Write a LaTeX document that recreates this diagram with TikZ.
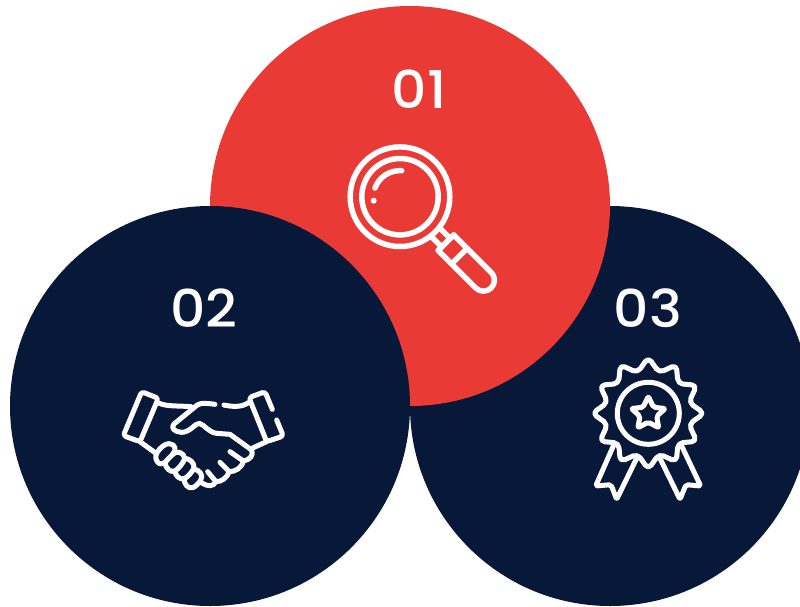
\documentclass[tikz,border=0pt]{standalone}
\usepackage{fontspec}
\setmainfont{Poppins Medium}[FakeStretch=1.06]
\definecolor{redc}{HTML}{E93A36}
\definecolor{navyc}{HTML}{071839}
\tikzset{
  disc/.style={circle,minimum size=400pt,inner sep=0pt,draw=none},
  num/.style={text=white,font=\fontsize{52}{52}\selectfont,inner sep=0pt},
  ico/.style={draw=white,line width=5.5pt,line cap=round,line join=round},
  icob/.style={draw=white,line width=5pt,line cap=round,line join=round},
}
\begin{document}
\begin{tikzpicture}[x=1pt,y=-1pt]
\useasboundingbox (0,0) rectangle (800,606);
\begin{scope}
\clip (0,0) rectangle (800,606);
\node[disc,fill=navyc] (c3) at (610,406) {};
\node[disc,fill=redc] (c1) at (410,206) {};
\node[disc,fill=navyc] (c2) at (210,406) {};
\end{scope}
\node[num] (n1) at (419,89) {01};
\node[num] (n2) at (204,308) {02};
\node[num] (n3) at (648,308) {03};
% magnifier
\begin{scope}[shift={(400,196.7)}]
\draw[ico] (0,0) circle (49.8);
\draw[ico] (0,0) circle (38.2);
\draw[ico] (1.7,-26) arc (-86:-160:26.5);
\fill[white] (-26.3,4) circle (3);
\begin{scope}[rotate=-45]
\draw[ico] (50,-6) -- (65,-6) (50,6) -- (65,6);
\draw[ico] (65,-11) -- (65,11) (84,-11) -- (84,11);
\draw[ico] (65,-11) -- (118,-11) arc (-90:90:11) -- (65,11);
\end{scope}
\end{scope}
% handshake
\begin{scope}[shift={(110,375)},x=0.3333pt,y=-0.3333pt,rounded corners=3pt]
\draw[icob] (95,50) -- (145,70) -- (90,200) -- (40,182) -- cycle;
\draw[icob] (487,103) -- (465,50) -- (417,68) -- (470,200) -- (520,183) -- (500,135);
\draw[icob,rounded corners=0pt] (148,85) .. controls (170,95) and (210,92) .. (243,95);
\draw[icob,rounded corners=0pt] (315,88) .. controls (290,85) and (275,82) .. (262,90) -- (192,147) .. controls (180,158) and (195,172) .. (215,172) .. controls (240,172) and (255,145) .. (268,145) .. controls (285,150) and (295,172) .. (320,175) -- (360,178) -- (425,225) .. controls (432,240) and (420,255) .. (400,258) .. controls (395,280) and (375,290) .. (358,290) .. controls (350,310) and (335,320) .. (318,320) .. controls (310,335) and (295,335) .. (277,325);
\draw[icob,rounded corners=0pt] (342,90) .. controls (365,95) and (395,98) .. (415,83);
\draw[icob] (470,200) -- (430,218);
\draw[icob] (90,200) -- (138,235);
\draw[icob] (360,230) -- (400,258);
\draw[icob] (330,262) -- (358,290);
\draw[icob] (293,290) -- (318,320);
% fingers
\draw[icob,rounded corners=0pt] (138,252) .. controls (132,235) and (160,205) .. (178,206) .. controls (197,208) and (200,225) .. (188,238) -- (165,262) .. controls (152,272) and (142,265) .. (138,252);
\draw[icob,rounded corners=0pt] (188,238) .. controls (200,225) and (222,232) .. (224,250) .. controls (222,262) and (205,282) .. (195,288) .. controls (182,294) and (166,280) .. (165,262);
\draw[icob,rounded corners=0pt] (224,250) .. controls (238,250) and (254,264) .. (252,278) .. controls (248,290) and (232,308) .. (222,311) .. controls (208,314) and (196,302) .. (195,288);
\draw[icob,rounded corners=0pt] (252,282) .. controls (268,285) and (282,300) .. (272,316) .. controls (265,326) and (256,336) .. (248,338) .. controls (233,342) and (222,326) .. (222,311);
\end{scope}
% rosette
\begin{scope}[shift={(648.3,413.3)}]
\draw[icob,rounded corners=5pt]
  (90:56) -- (105:42) -- (120:56) -- (135:42) -- (150:56) -- (165:42) -- (180:56) -- (195:42) -- (210:56) -- (225:42) -- (240:56) -- (255:42) -- (270:56) -- (285:42) -- (300:56) -- (315:42) -- (330:56) -- (345:42) -- (0:56) -- (15:42) -- (30:56) -- (45:42) -- (60:56) -- (75:42) -- cycle;
\draw[icob] (0,0) circle (31);
\draw[icob,rounded corners=2pt]
  (0,-17) -- (5.2,-6) -- (17,-4.8) -- (8.3,3) -- (10.5,14.5) -- (0,8.8) -- (-10.5,14.5) -- (-8.3,3) -- (-17,-4.8) -- (-5.2,-6) -- cycle;
\end{scope}
\begin{scope}[shift={(580,350)},x=0.3333pt,y=-0.3333pt]
\draw[icob,rounded corners=2pt] (100,288) -- (47,408) -- (93,404) -- (110,448) -- (170,325);
\draw[icob,rounded corners=2pt] (305,288) -- (362,408) -- (318,404) -- (300,448) -- (240,325);
\end{scope}
\end{tikzpicture}
\end{document}
